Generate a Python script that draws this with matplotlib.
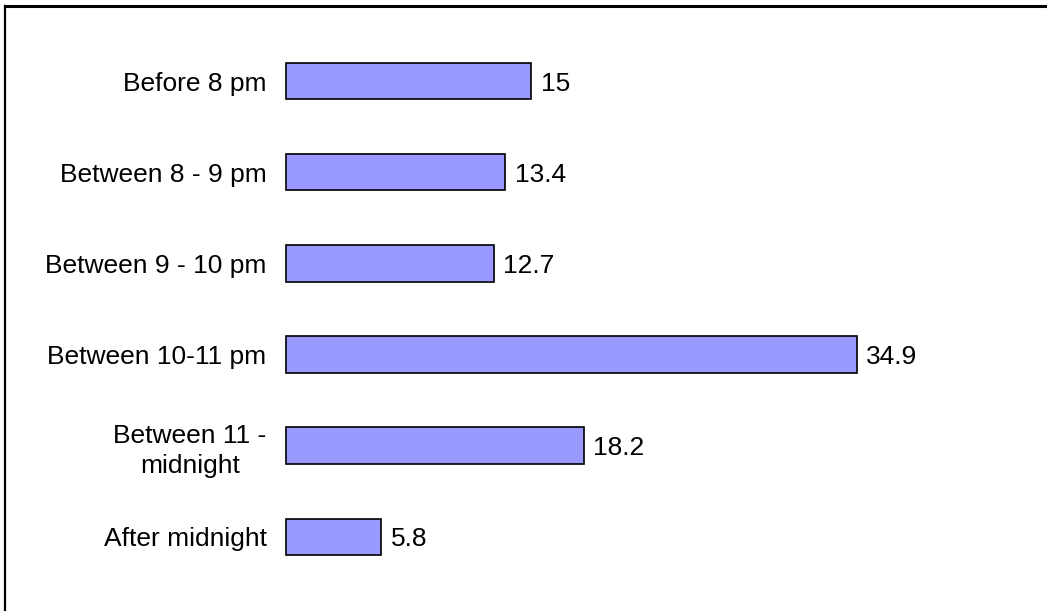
import matplotlib.pyplot as plt
from matplotlib.lines import Line2D

categories = ['Before 8 pm', 'Between 8 - 9 pm', 'Between 9 - 10 pm',
              'Between 10-11 pm', 'Between 11 -\nmidnight', 'After midnight']
values = [15, 13.4, 12.7, 34.9, 18.2, 5.8]

plt.rcParams['font.family'] = ['Liberation Sans', 'DejaVu Sans']

fig = plt.figure(figsize=(10.47, 6.11), dpi=100)
ax = fig.add_axes([0.2732, 0.002, 0.6246, 0.9846])

ypos = list(range(len(values)))
bars = ax.barh(ypos, values, height=0.4, color='#9999FF', edgecolor='black', linewidth=1.2)
for b in bars:
    b.set_clip_on(False)

for y, v in zip(ypos, values):
    ax.text(v + 0.6, y, f'{v:g}', va='center_baseline', ha='left', fontsize=19)

ax.set_xlim(0, 40)
ax.set_ylim(5.8, -0.8)
ax.set_yticks(ypos)
ax.set_yticklabels(categories, fontsize=19, multialignment='center', linespacing=1.3)
ax.tick_params(axis='y', length=0, pad=14)
ax.set_xticks([])
for s in ax.spines.values():
    s.set_visible(False)

# outer frame (partly cut off in the source image)
fig.add_artist(Line2D([5 / 1047, 1], [1 - 6 / 611, 1 - 6 / 611], transform=fig.transFigure,
                      color='black', linewidth=2.2))
fig.add_artist(Line2D([5 / 1047, 5 / 1047], [0, 1 - 6 / 611], transform=fig.transFigure,
                      color='black', linewidth=1.6))

fig.savefig('out.png', dpi=100)
